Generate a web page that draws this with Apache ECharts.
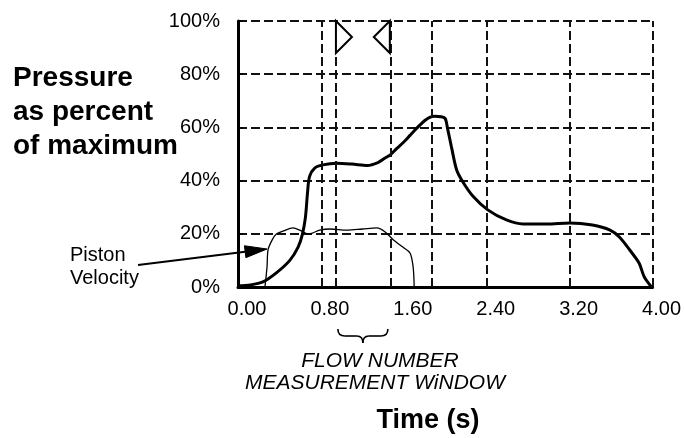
<!DOCTYPE html>
<html>
<head>
<meta charset="utf-8">
<script src="https://cdn.jsdelivr.net/npm/echarts@6/dist/echarts.min.js"></script>
<style>
html,body{margin:0;padding:0;background:#fff;}
#c{width:684px;height:438px;}
</style>
</head>
<body>
<div id="c"></div>
<script>
// ---- data ----
const pressureTime  = [0.00,0.12,0.24,0.37,0.50,0.58,0.62,0.65,0.67,0.69,0.74,0.82,0.95,1.10,1.25,1.35,1.42,1.47,1.53,1.60,1.66,1.72,1.80,1.85,1.90,1.96,2.00,2.02,2.06,2.11,2.17,2.27,2.41,2.59,2.75,2.98,3.20,3.42,3.59,3.68,3.78,3.87,3.92,3.99];
const pressureValue = [0.5,0.8,1.9,5.3,10.0,15.0,19.6,26.0,35.0,41.5,44.7,45.9,46.5,46.2,45.7,46.8,48.5,49.7,52.0,54.5,57.0,59.5,62.5,63.8,64.2,64.0,63.3,60.0,52.6,44.0,39.5,34.0,29.0,25.2,23.7,23.7,24.1,23.3,21.4,18.8,13.9,9.0,3.8,0.0];
const velocityTime  = [0.26,0.28,0.29,0.33,0.37,0.44,0.53,0.61,0.68,0.72,0.79,0.89,1.05,1.20,1.34,1.42,1.50,1.59,1.66,1.69,1.70];
const velocityValue = [0.0,7.5,14.0,17.7,19.9,21.1,22.2,21.1,19.9,20.3,21.4,21.8,21.4,21.8,22.2,20.7,17.7,15.0,12.8,7.5,0.0];
const xTicks = [0, 0.8, 1.6, 2.4, 3.2, 4.0];
const yTicks = [0, 20, 40, 60, 80, 100];
const gridXLines = [0.81, 1.87, 2.40, 3.20, 4.00];
const windowLines = [0.945, 1.465];
const titleLines = ['Pressure', 'as percent', 'of maximum'];
const xAxisTitle = 'Time (s)';
const windowLabel = ['FLOW NUMBER', 'MEASUREMENT WiNDOW'];
const pistonLabel = ['Piston', 'Velocity'];

const FONT = '"Liberation Sans", Arial, sans-serif';
const dash = [9, 4];

const chart = echarts.init(document.getElementById('c'), null, {renderer: 'canvas'});

const vLines = gridXLines.concat(windowLines).map(v => ({xAxis: v}));

chart.setOption({
  animation: false,
  backgroundColor: '#fff',
  grid: {left: 238, right: 31, top: 21, bottom: 151},
  xAxis: {
    type: 'value', min: xTicks[0], max: xTicks[xTicks.length-1], interval: 0.8,
    axisLine: {show: true, onZero: false, lineStyle: {color: '#000', width: 3}},
    axisTick: {show: false},
    splitLine: {show: false},
    axisLabel: {
      color: '#000', fontSize: 20, fontFamily: FONT, margin: 12,
      padding: [0, 0, 0, 18],
      formatter: v => v.toFixed(2)
    }
  },
  yAxis: {
    type: 'value', min: yTicks[0], max: yTicks[yTicks.length-1], interval: 20,
    axisLine: {show: true, lineStyle: {color: '#000', width: 3}},
    axisTick: {show: true, inside: true, length: 5, lineStyle: {color: '#000', width: 1.5}},
    splitLine: {show: true, lineStyle: {color: '#111', width: 2, type: dash}},
    axisLabel: {color: '#000', fontSize: 20, fontFamily: FONT, margin: 18, formatter: v => v + '%'}
  },
  series: [
    {
      type: 'line', name: 'grid', data: [], silent: true, z: 1,
      markLine: {
        silent: true, symbol: 'none', animation: false,
        label: {show: false},
        lineStyle: {color: '#111', width: 2, type: dash},
        data: vLines
      }
    },
    {
      type: 'line', name: 'Pressure', z: 4,
      data: pressureTime.map((t, i) => [t, pressureValue[i]]),
      showSymbol: false, smooth: 0.3,
      lineStyle: {color: '#000', width: 3}
    },
    {
      type: 'line', name: 'Piston Velocity', z: 3,
      data: velocityTime.map((t, i) => [t, velocityValue[i]]),
      showSymbol: false, smooth: 0.3,
      lineStyle: {color: '#000', width: 1.3}
    }
  ]
});

// ---- annotations ----
const p0 = chart.convertToPixel({gridIndex: 0}, [windowLines[0], 100]);
const p1 = chart.convertToPixel({gridIndex: 0}, [windowLines[1], 100]);
const triH = 32, triW = 16;
const midX = (p0[0] + p1[0]) / 2;

const tip = [267, 249], tail = [138, 265];
const dx = tip[0]-tail[0], dy = tip[1]-tail[1], L = Math.hypot(dx, dy);
const ux = dx/L, uy = dy/L, hl = 22, hw = 6;
const bx = tip[0]-ux*hl, by = tip[1]-uy*hl;

const graphics = [];
titleLines.forEach((t, i) => graphics.push({
  type: 'text', style: {text: t, x: 13, y: 78.5 + i*34, verticalAlign: 'middle',
    font: 'bold 28px ' + FONT, fill: '#000'}
}));
pistonLabel.forEach((t, i) => graphics.push({
  type: 'text', style: {text: t, x: 70, y: 255 + i*23, verticalAlign: 'middle',
    font: '20px ' + FONT, fill: '#000'}
}));
graphics.push({type: 'polyline', shape: {points: [tail, [bx, by]]}, style: {stroke: '#000', lineWidth: 2}, z: 10});
graphics.push({type: 'polygon', shape: {points: [tip, [bx - uy*hw, by + ux*hw], [bx + uy*hw, by - ux*hw]]},
  style: {fill: '#000', stroke: '#000'}, z: 10});
graphics.push({type: 'polygon', shape: {points: [[p0[0], p0[1]], [p0[0], p0[1]+triH], [p0[0]+triW, p0[1]+triH/2]]},
  style: {fill: '#fff', stroke: '#000', lineWidth: 2}, z: 10});
graphics.push({type: 'polygon', shape: {points: [[p1[0], p1[1]], [p1[0], p1[1]+triH], [p1[0]-triW, p1[1]+triH/2]]},
  style: {fill: '#fff', stroke: '#000', lineWidth: 2}, z: 10});
// curly brace
const by0 = 329;
const braceStyle = {fill: 'none', stroke: '#000', lineWidth: 1.6};
graphics.push({type: 'bezierCurve', shape: {x1: midX-25, y1: by0, cpx1: midX-25, cpy1: by0+7, x2: midX-18, y2: by0+7}, style: braceStyle});
graphics.push({type: 'line', shape: {x1: midX-18, y1: by0+7, x2: midX-6, y2: by0+7}, style: braceStyle});
graphics.push({type: 'bezierCurve', shape: {x1: midX-6, y1: by0+7, cpx1: midX, cpy1: by0+7, x2: midX, y2: by0+14}, style: braceStyle});
graphics.push({type: 'bezierCurve', shape: {x1: midX, y1: by0+14, cpx1: midX, cpy1: by0+7, x2: midX+6, y2: by0+7}, style: braceStyle});
graphics.push({type: 'line', shape: {x1: midX+6, y1: by0+7, x2: midX+18, y2: by0+7}, style: braceStyle});
graphics.push({type: 'bezierCurve', shape: {x1: midX+18, y1: by0+7, cpx1: midX+25, cpy1: by0+7, x2: midX+25, y2: by0}, style: braceStyle});
graphics.push({type: 'text', style: {text: windowLabel[0], x: 380, y: 361, align: 'center', verticalAlign: 'middle',
  font: 'italic 21px ' + FONT, fill: '#000'}});
graphics.push({type: 'text', style: {text: windowLabel[1], x: 375, y: 383, align: 'center', verticalAlign: 'middle',
  font: 'italic 21px ' + FONT, fill: '#000'}});
graphics.push({type: 'text', style: {text: xAxisTitle, x: 428, y: 421, align: 'center', verticalAlign: 'middle',
  font: 'bold 27px ' + FONT, fill: '#000'}});

chart.setOption({graphic: graphics});
</script>
</body>
</html>
